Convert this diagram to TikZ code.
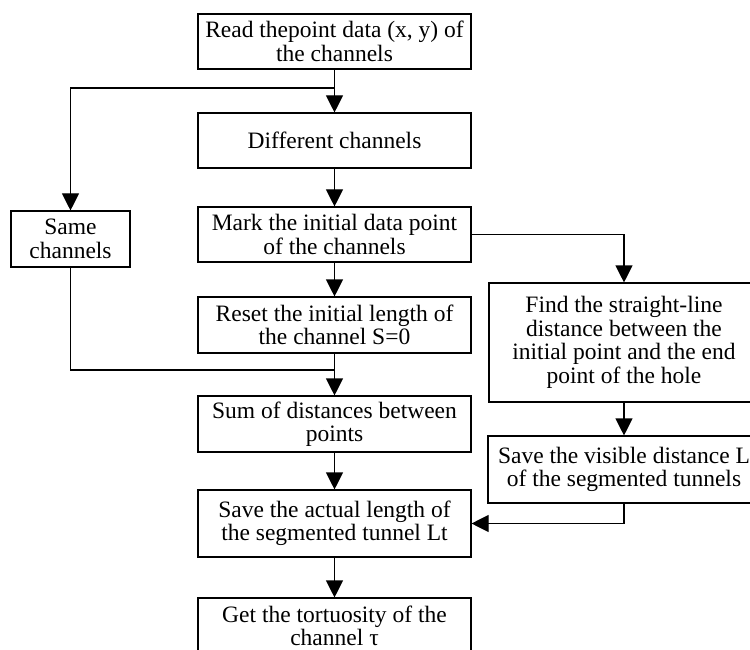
\documentclass[tikz,border=0pt]{standalone}
\usepackage{fontspec}
\setmainfont{Liberation Serif}
\usetikzlibrary{arrows.meta}
\begin{document}
\begin{tikzpicture}[x=1pt,y=1pt,
  box/.style={draw, line width=1.1pt, align=center, inner sep=0pt,
    font=\fontsize{23.5}{23.5}\selectfont},
  arr/.style={line width=1.1pt, -{Triangle[length=17pt,width=17pt]}},
  ln/.style={line width=1.1pt}]
\useasboundingbox (0,0) rectangle (750,-650);
\node[box, minimum width=273pt, minimum height=55pt] (read) at (334.5,-41.5) {Read thepoint data (x, y) of\\the channels};
\node[box, minimum width=273pt, minimum height=55pt] (diff) at (334.5,-140.5) {Different channels};
\node[box, minimum width=273pt, minimum height=55pt] (mark) at (334.5,-234.5) {Mark the initial data point\\of the channels};
\node[box, minimum width=273pt, minimum height=56pt] (reset) at (334.5,-325) {Reset the initial length of\\the channel S=0};
\node[box, minimum width=273pt, minimum height=56pt] (sum) at (334.5,-424) {Sum of distances between\\points};
\node[box, minimum width=273pt, minimum height=67pt] (actual) at (334.5,-523.5) {Save the actual length of\\the segmented tunnel Lt};
\node[box, minimum width=273pt, minimum height=56pt] (get) at (334.5,-626) {Get the tortuosity of the\\channel τ};
\node[box, minimum width=119pt, minimum height=56pt] (same) at (70.5,-239) {Same\\channels};
\node[box, minimum width=270pt, minimum height=119pt] (find) at (624,-342.5) {Find the straight-line\\distance between the\\initial point and the end\\point of the hole};
\node[box, minimum width=272pt, minimum height=67pt] (vis) at (624,-469.5) {Save the visible distance L\\of the segmented tunnels};
\coordinate (j1) at (334.5,-88);
\coordinate (j2) at (334.5,-370);
\draw[arr] (read) -- (diff);
\draw[arr] (j1) -| (same.north);
\draw[arr] (diff) -- (mark);
\draw[arr] (mark) -- (reset);
\draw[arr] (mark.east) -| (find.north);
\draw[arr] (reset) -- (sum);
\draw[ln] (same.south) |- (j2);
\draw[arr] (sum) -- (actual);
\draw[arr] (actual) -- (get);
\draw[arr] (find) -- (vis);
\draw[arr] (vis.south) |- (actual.east);
\end{tikzpicture}
\end{document}
